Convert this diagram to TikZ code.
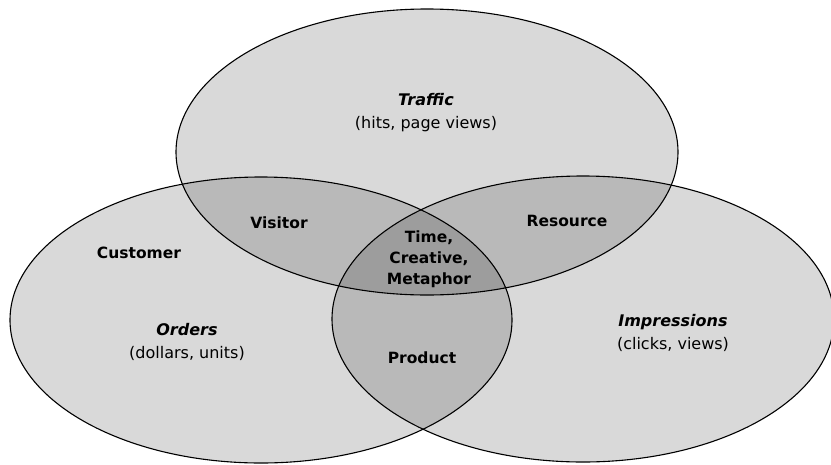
\documentclass[tikz,border=0pt]{standalone}
\usepackage{fontspec}
\setmainfont{DejaVu Sans}
\usetikzlibrary{shapes.geometric}
\begin{document}
\begin{tikzpicture}[x=1pt,y=-1pt,
  venn/.style={ellipse, draw=black, line width=1.1pt, fill=black, fill opacity=0.15, text opacity=1, inner sep=0pt, minimum width=502pt, minimum height=286pt},
  lbl/.style={font=\fontsize{15.5}{19}\selectfont\bfseries, align=center, inner sep=1pt},
  ttl/.style={font=\fontsize{16}{23}\selectfont, align=center, inner sep=1pt}]
\useasboundingbox (0,0) rectangle (831,464);
\node[venn] (traffic) at (427,152) {};
\node[venn] (orders) at (261,320) {};
\node[venn] (impr) at (583,319) {};
\node[ttl] (t1) at (426,113) {\textbf{\textit{Traffic}}\\(hits, page views)};
\node[ttl] (t2) at (187,342) {\textbf{\textit{Orders}}\\(dollars, units)};
\node[ttl] (t3) at (673,333) {\textbf{\textit{Impressions}}\\(clicks, views)};
\node[lbl] (visitor) at (279,223) {Visitor};
\node[lbl] (customer) at (139,253) {Customer};
\node[lbl] (resource) at (567,221) {Resource};
\node[lbl] (product) at (422,358) {Product};
\node[lbl, font=\fontsize{15.5}{21}\selectfont\bfseries] (center) at (429,259) {Time,\\Creative,\\Metaphor};
\end{tikzpicture}
\end{document}
